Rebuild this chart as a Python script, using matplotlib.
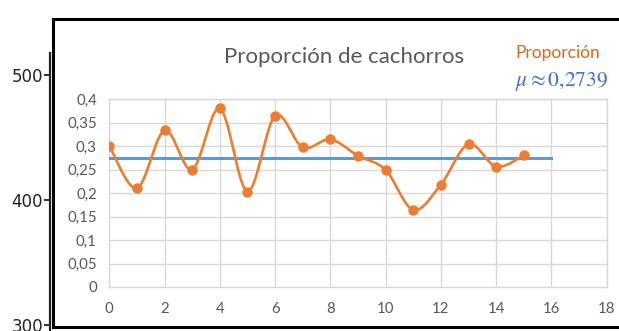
import numpy as np
import matplotlib
from matplotlib import pyplot as plt
from matplotlib.patches import Rectangle

matplotlib.rcParams['font.family'] = ['Lato', 'DejaVu Sans']
matplotlib.rcParams['mathtext.fontset'] = 'stix'

# Datos: proporción de cachorros por periodo
periodo = [0, 1, 2, 3, 4, 5, 6, 7, 8, 9, 10, 11, 12, 13, 14, 15]
proporcion = [0.300, 0.210, 0.333, 0.250, 0.380, 0.203, 0.364, 0.297,
              0.314, 0.279, 0.249, 0.164, 0.218, 0.304, 0.256, 0.280]
mu = 0.2739
mu_tramo = [0, 16]

y_ticks = [0, 0.05, 0.1, 0.15, 0.2, 0.25, 0.3, 0.35, 0.4]
y_tick_labels = ['0', '0,05', '0,1', '0,15', '0,2', '0,25', '0,3', '0,35', '0,4']
x_ticks = [0, 2, 4, 6, 8, 10, 12, 14, 16, 18]

# eje de fondo (el de 300-500)
fondo_ticks = [300, 400, 500]

naranja = '#ED7D31'
azul = '#5B9BD5'
gris = '#595959'


def curva_suave(x, y, n=30):
    # curva tipo Excel: Bezier con tangentes de Catmull-Rom
    x = np.asarray(x, float)
    y = np.asarray(y, float)
    px = np.concatenate([[x[0]], x, [x[-1]]])
    py = np.concatenate([[y[0]], y, [y[-1]]])
    xs, ys = [], []
    t = np.linspace(0, 1, n)
    for i in range(1, len(px) - 2):
        p0 = np.array([px[i], py[i]])
        p3 = np.array([px[i + 1], py[i + 1]])
        c1 = p0 + (np.array([px[i + 1], py[i + 1]]) - np.array([px[i - 1], py[i - 1]])) / 6
        c2 = p3 - (np.array([px[i + 2], py[i + 2]]) - np.array([px[i], py[i]])) / 6
        b = ((1 - t) ** 3)[:, None] * p0 + (3 * (1 - t) ** 2 * t)[:, None] * c1 \
            + (3 * (1 - t) * t ** 2)[:, None] * c2 + (t ** 3)[:, None] * p3
        xs.extend(b[:, 0])
        ys.extend(b[:, 1])
    return xs, ys


fig = plt.figure(figsize=(6.19, 3.31), dpi=100)

# eje de fondo
bg = fig.add_axes([50 / 619, 0, 0.5, (331 - 53) / 331])
bg.set_ylim(295.2, 517.6)
bg.set_yticks(fondo_ticks)
bg.set_xticks([])
for s in ['top', 'right', 'bottom']:
    bg.spines[s].set_visible(False)
bg.spines['left'].set_linewidth(1.6)
bg.spines['left'].set_color('#222222')
bg.tick_params(axis='y', length=4, width=1.3, color='#222222',
               labelsize=12, labelcolor='#222222', pad=1)
for lab in bg.get_yticklabels():
    lab.set_family('DejaVu Sans')
bg.patch.set_visible(False)

# marco blanco del gráfico
marco = Rectangle((53 / 619, 4 / 331), 1.0, (327 - 19) / 331,
                  transform=fig.transFigure, facecolor='white',
                  edgecolor='black', linewidth=2.2, zorder=1)
fig.patches.append(marco)

ax = fig.add_axes([109.3 / 619, (331 - 287) / 331, (606.7 - 109.3) / 619, (287 - 99) / 331])
ax.set_zorder(3)
ax.patch.set_visible(False)

xs, ys = curva_suave(periodo, proporcion)
ax.plot(mu_tramo, [mu, mu], color=azul, linewidth=2.2, zorder=3)
ax.plot(xs, ys, color=naranja, linewidth=1.9, zorder=4)
ax.plot(periodo, proporcion, 'o', color=naranja, markersize=6.5, zorder=5)

ax.set_xlim(0, 18)
ax.set_ylim(0, 0.4)
ax.set_xticks(x_ticks)
ax.set_yticks(y_ticks)
ax.set_yticklabels(y_tick_labels)
ax.grid(True, color='#D9D9D9', linewidth=1)
ax.set_axisbelow(True)
for s in ax.spines.values():
    s.set_color('#D9D9D9')
    s.set_linewidth(1)
ax.tick_params(length=0, labelsize=10.8, labelcolor=gris)
ax.tick_params(axis='y', pad=9)
ax.tick_params(axis='x', pad=11)

fig.text(344 / 619, 1 - 57 / 331, 'Proporción de cachorros', ha='center', va='center',
         fontsize=16, color=gris, zorder=5)
fig.text(515 / 619, 1 - 53 / 331, 'Proporción', ha='left', va='center',
         fontsize=12.5, color='#D2691E', zorder=5)
fig.text(515 / 619, 1 - 82 / 331, r'$\mu \approx 0{,}2739$', ha='left', va='center',
         fontsize=15.5, color='#4472C4', zorder=5)

fig.savefig('out.png', dpi=100)
